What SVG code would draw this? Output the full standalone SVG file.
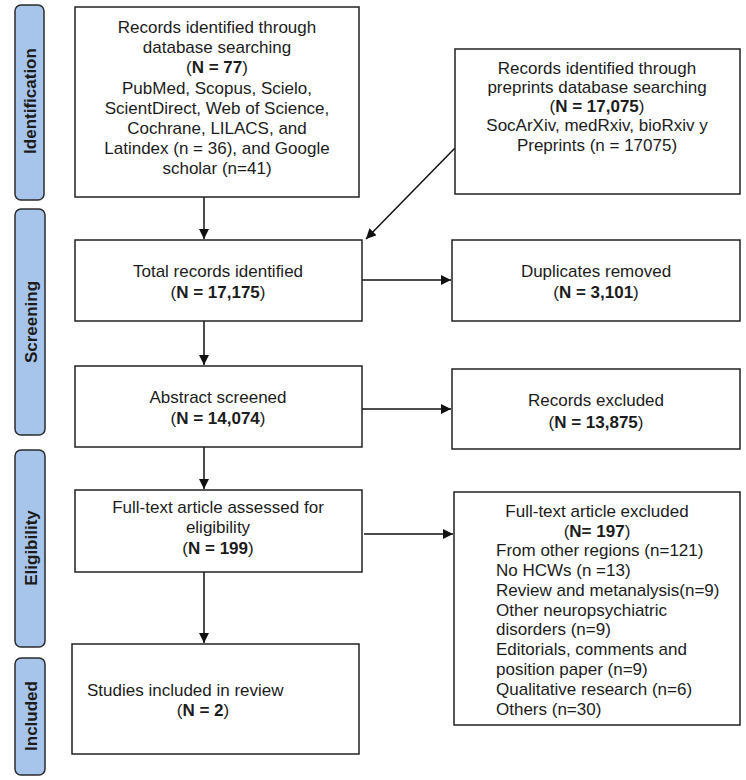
<svg xmlns="http://www.w3.org/2000/svg" width="746" height="780" viewBox="0 0 746 780">
<style>
.box{fill:#fff;stroke:#222;stroke-width:1.5}
.side{fill:#a7c5ea;stroke:#2b2b2b;stroke-width:1.5}
.t{font-family:"Liberation Sans",Arial,sans-serif;font-size:17px;fill:#1c1c1c}
.c{text-anchor:middle}
.lab{font-family:"Liberation Sans",Arial,sans-serif;font-size:17px;font-weight:bold;fill:#1c1c1c;text-anchor:middle}
.b{font-weight:bold}
.conn{stroke:#111;stroke-width:1.5;fill:none;marker-end:url(#ah)}
</style>
<defs>
<marker id="ah" viewBox="0 0 10 10" refX="10" refY="5" markerWidth="10" markerHeight="10" markerUnits="userSpaceOnUse" orient="auto">
<path d="M0,0 L10,5 L0,10 z" fill="#111"/>
</marker>
</defs>
<rect width="746" height="780" fill="#fff"/>

<g id="phase-identification">
<rect class="side" x="15" y="5" width="29" height="195" rx="6"/>
<text class="lab" transform="translate(35.5,101) rotate(-90)">Identification</text>
</g>
<g id="phase-screening">
<rect class="side" x="15" y="209" width="30" height="226" rx="6"/>
<text class="lab" transform="translate(36.5,322) rotate(-90)">Screening</text>
</g>
<g id="phase-eligibility">
<rect class="side" x="15" y="450" width="30" height="197" rx="6"/>
<text class="lab" transform="translate(36.5,548) rotate(-90)">Eligibility</text>
</g>
<g id="phase-included">
<rect class="side" x="15" y="658" width="30" height="117" rx="6"/>
<text class="lab" transform="translate(36.5,716) rotate(-90)">Included</text>
</g>

<g id="connectors">
<line class="conn" x1="204" y1="197" x2="204" y2="239"/>
<line class="conn" x1="455" y1="148" x2="366" y2="239"/>
<line class="conn" x1="362" y1="280" x2="451" y2="280"/>
<line class="conn" x1="204" y1="321" x2="204" y2="365"/>
<line class="conn" x1="362" y1="409" x2="451" y2="409"/>
<line class="conn" x1="204" y1="447" x2="204" y2="489"/>
<line class="conn" x1="364" y1="534" x2="453" y2="534"/>
<line class="conn" x1="204" y1="572" x2="204" y2="643"/>
</g>

<g id="records-database">
<rect class="box" x="75" y="7" width="284" height="190"/>
<text class="t c" x="217" y="33">Records identified through</text>
<text class="t c" x="217" y="53">database searching</text>
<text class="t c" x="217" y="73">(<tspan class="b">N = 77</tspan>)</text>
<text class="t c" x="217" y="94">PubMed, Scopus, Scielo,</text>
<text class="t c" x="217" y="114">ScientDirect, Web of Science,</text>
<text class="t c" x="217" y="134">Cochrane, LILACS, and</text>
<text class="t c" x="217" y="154">Latindex (n = 36), and Google</text>
<text class="t c" x="217" y="174">scholar (n=41)</text>
</g>

<g id="records-preprints">
<rect class="box" x="455" y="49" width="285" height="145"/>
<text class="t c" x="597" y="74">Records identified through</text>
<text class="t c" x="597" y="93">preprints database searching</text>
<text class="t c" x="597" y="112">(<tspan class="b">N = 17,075</tspan>)</text>
<text class="t c" x="597" y="131">SocArXiv, medRxiv, bioRxiv y</text>
<text class="t c" x="597" y="151">Preprints (n = 17075)</text>
</g>

<g id="total-records">
<rect class="box" x="75" y="240" width="287" height="81"/>
<text class="t c" x="218" y="277">Total records identified</text>
<text class="t c" x="218" y="298">(<tspan class="b">N = 17,175</tspan>)</text>
</g>

<g id="duplicates">
<rect class="box" x="452" y="240" width="288" height="81"/>
<text class="t c" x="596" y="277">Duplicates removed</text>
<text class="t c" x="596" y="298">(<tspan class="b">N = 3,101</tspan>)</text>
</g>

<g id="abstract-screened">
<rect class="box" x="75" y="366" width="287" height="81"/>
<text class="t c" x="218" y="403">Abstract screened</text>
<text class="t c" x="218" y="424">(<tspan class="b">N = 14,074</tspan>)</text>
</g>

<g id="records-excluded">
<rect class="box" x="452" y="369" width="288" height="80"/>
<text class="t c" x="596" y="406">Records excluded</text>
<text class="t c" x="596" y="428">(<tspan class="b">N = 13,875</tspan>)</text>
</g>

<g id="fulltext-assessed">
<rect class="box" x="75" y="490" width="287" height="82"/>
<text class="t c" x="218" y="513">Full-text article assessed for</text>
<text class="t c" x="218" y="533">eligibility</text>
<text class="t c" x="218" y="554">(<tspan class="b">N = 199</tspan>)</text>
</g>

<g id="fulltext-excluded">
<rect class="box" x="454" y="492" width="286" height="233"/>
<text class="t c" x="597" y="517">Full-text article excluded</text>
<text class="t c" x="597" y="537">(<tspan class="b">N= 197</tspan>)</text>
<text class="t" x="496" y="556">From other regions (n=121)</text>
<text class="t" x="496" y="576">No HCWs (n =13)</text>
<text class="t" x="496" y="596">Review and metanalysis(n=9)</text>
<text class="t" x="496" y="616">Other neuropsychiatric</text>
<text class="t" x="496" y="635">disorders (n=9)</text>
<text class="t" x="496" y="655">Editorials, comments and</text>
<text class="t" x="496" y="675">position paper (n=9)</text>
<text class="t" x="496" y="695">Qualitative research (n=6)</text>
<text class="t" x="496" y="715">Others (n=30)</text>
</g>

<g id="studies-included">
<rect class="box" x="72" y="644" width="287" height="110"/>
<text class="t" x="87" y="696">Studies included in review</text>
<text class="t c" x="203" y="716">(<tspan class="b">N = 2</tspan>)</text>
</g>
</svg>
